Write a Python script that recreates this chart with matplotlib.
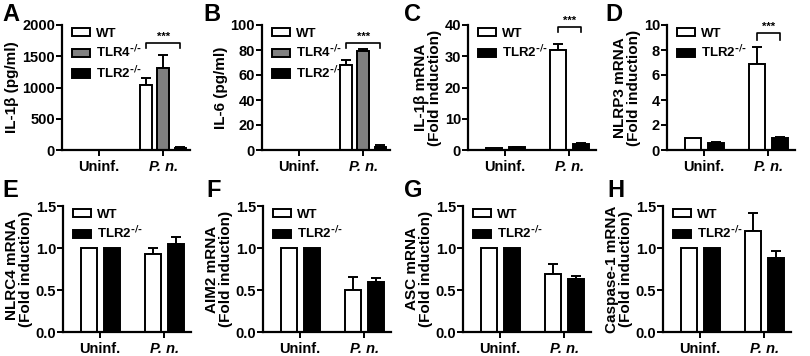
import numpy as np
import matplotlib.pyplot as plt

plt.rcParams['font.family'] = ['Liberation Sans', 'DejaVu Sans']
plt.rcParams['font.weight'] = 'bold'
plt.rcParams['axes.labelweight'] = 'bold'
plt.rcParams['mathtext.default'] = 'regular'

# categories
groups = ['Uninf.', 'P. n.']

# A: IL-1b protein
a_wt, a_wt_err = [0, 1040], [0, 110]
a_tlr4, a_tlr4_err = [0, 1310], [0, 210]
a_tlr2, a_tlr2_err = [0, 40], [0, 12]
# B: IL-6 protein
b_wt, b_wt_err = [0, 68], [0, 4]
b_tlr4, b_tlr4_err = [0, 79], [0, 2]
b_tlr2, b_tlr2_err = [0, 2.5], [0, 1.5]
# C: IL-1b mRNA
c_wt, c_wt_err = [0.8, 32], [0, 2]
c_tlr2, c_tlr2_err = [0.9, 1.8], [0.2, 0.4]
# D: NLRP3 mRNA
d_wt, d_wt_err = [1.0, 6.9], [0, 1.3]
d_tlr2, d_tlr2_err = [0.55, 1.0], [0.08, 0.08]
# E-H: NLRC4, AIM2, ASC, Caspase-1 mRNA
e_wt, e_wt_err = [1.0, 0.93], [0, 0.07]
e_tlr2, e_tlr2_err = [1.0, 1.05], [0, 0.08]
f_wt, f_wt_err = [1.0, 0.50], [0, 0.15]
f_tlr2, f_tlr2_err = [1.0, 0.59], [0, 0.05]
g_wt, g_wt_err = [1.0, 0.69], [0, 0.12]
g_tlr2, g_tlr2_err = [1.0, 0.63], [0, 0.04]
h_wt, h_wt_err = [1.0, 1.20], [0, 0.22]
h_tlr2, h_tlr2_err = [1.0, 0.88], [0, 0.08]

lbl_wt = 'WT'
lbl_tlr4 = r'TLR4$^{\text{-/-}}$'
lbl_tlr2 = r'TLR2$^{\text{-/-}}$'

fig = plt.figure(figsize=(8.1, 3.56), dpi=100)

W = 128 / 810
H1, H2 = 125 / 356, 126 / 356
row1 = 1 - 150 / 356
row2 = 1 - 332 / 356


def panel(left, bottom, h, letter, lx, ly, ylabel, ymax, ystep, series, sig=None):
    ax = fig.add_axes([left, bottom, W, h])
    x = np.arange(len(groups))
    n = len(series)
    if n == 3:
        bw, off = 0.18, 0.27
    else:
        bw, off = 0.25, 0.36
    pos = []
    for i, (vals, errs, col, lab) in enumerate(series):
        xi = x + (i - (n - 1) / 2) * off
        pos.append(xi)
        ax.bar(xi, vals, bw, color=col, edgecolor='black', linewidth=1.4,
               label=lab, zorder=2)
        for xx, v, e in zip(xi, vals, errs):
            if e > 0:
                ax.errorbar(xx, v, yerr=[[0], [e]], fmt='none', ecolor='black',
                            elinewidth=1.4, capsize=3.5, capthick=1.4, zorder=1)
    ax.set_xlim(-0.58, 1.42)
    ax.set_ylim(0, ymax)
    ax.set_yticks(np.arange(0, ymax + ystep / 2, ystep))
    if ymax < 5:
        ax.set_yticklabels(['%.1f' % t for t in ax.get_yticks()])
    ax.set_xticks(x)
    ax.set_xticklabels(groups, fontsize=10.5, fontweight='bold')
    ax.get_xticklabels()[1].set_style('italic')
    for t in ax.get_yticklabels():
        t.set_fontweight('bold')
    ax.tick_params(axis='y', labelsize=10.5, width=1.4, length=4, pad=1)
    ax.tick_params(axis='x', width=1.4, length=4, pad=3)
    for s in ['top', 'right']:
        ax.spines[s].set_visible(False)
    for s in ['left', 'bottom']:
        ax.spines[s].set_linewidth(1.6)
    ax.set_ylabel(ylabel, fontsize=11, fontweight='bold', labelpad=2,
                  linespacing=1.0)
    leg = ax.legend(loc='upper left', bbox_to_anchor=(0.02, 1.04), frameon=False,
                    prop={'size': 9.5, 'weight': 'bold'}, handlelength=1.3,
                    handleheight=0.6, labelspacing=0.3, handletextpad=0.5,
                    borderaxespad=0.2)
    if sig is not None:
        x0, x1 = pos[0][1], pos[-1][1]
        yl, yd = sig
        ax.plot([x0, x0, x1, x1], [yd, yl, yl, yd], color='black', lw=1.2,
                clip_on=False)
        ax.text((x0 + x1) / 2, yl + ymax * 0.01, '***', ha='center',
                va='bottom', fontsize=8, clip_on=False)
    fig.text(lx / 810, 1 - ly / 356, letter, fontsize=17, fontweight='bold',
             va='top', ha='left')
    return ax


panel(62 / 810, row1, H1, 'A', 2, 3, 'IL-1β (pg/ml)', 2000, 500,
      [(a_wt, a_wt_err, 'white', lbl_wt), (a_tlr4, a_tlr4_err, '#808080', lbl_tlr4),
       (a_tlr2, a_tlr2_err, 'black', lbl_tlr2)], sig=(1712, 1632))
panel(262 / 810, row1, H1, 'B', 203, 3, 'IL-6 (pg/ml)', 100, 20,
      [(b_wt, b_wt_err, 'white', lbl_wt), (b_tlr4, b_tlr4_err, '#808080', lbl_tlr4),
       (b_tlr2, b_tlr2_err, 'black', lbl_tlr2)], sig=(85.6, 81.6))
panel(468 / 810, row1, H1, 'C', 404, 3, 'IL-1β mRNA\n(Fold induction)', 40, 10,
      [(c_wt, c_wt_err, 'white', lbl_wt), (c_tlr2, c_tlr2_err, 'black', lbl_tlr2)],
      sig=(39.4, 37.8))
panel(667 / 810, row1, H1, 'D', 605, 3, 'NLRP3 mRNA\n(Fold induction)', 10, 2,
      [(d_wt, d_wt_err, 'white', lbl_wt), (d_tlr2, d_tlr2_err, 'black', lbl_tlr2)],
      sig=(9.36, 8.8))
panel(63 / 810, row2, H2, 'E', 2, 179, 'NLRC4 mRNA\n(Fold induction)', 1.5, 0.5,
      [(e_wt, e_wt_err, 'white', lbl_wt), (e_tlr2, e_tlr2_err, 'black', lbl_tlr2)])
panel(263 / 810, row2, H2, 'F', 206, 179, 'AIM2 mRNA\n(Fold induction)', 1.5, 0.5,
      [(f_wt, f_wt_err, 'white', lbl_wt), (f_tlr2, f_tlr2_err, 'black', lbl_tlr2)])
panel(463 / 810, row2, H2, 'G', 404, 179, 'ASC mRNA\n(Fold induction)', 1.5, 0.5,
      [(g_wt, g_wt_err, 'white', lbl_wt), (g_tlr2, g_tlr2_err, 'black', lbl_tlr2)])
panel(663 / 810, row2, H2, 'H', 607, 179, 'Caspase-1 mRNA\n(Fold induction)', 1.5, 0.5,
      [(h_wt, h_wt_err, 'white', lbl_wt), (h_tlr2, h_tlr2_err, 'black', lbl_tlr2)])

fig.savefig('out.png', dpi=100)
